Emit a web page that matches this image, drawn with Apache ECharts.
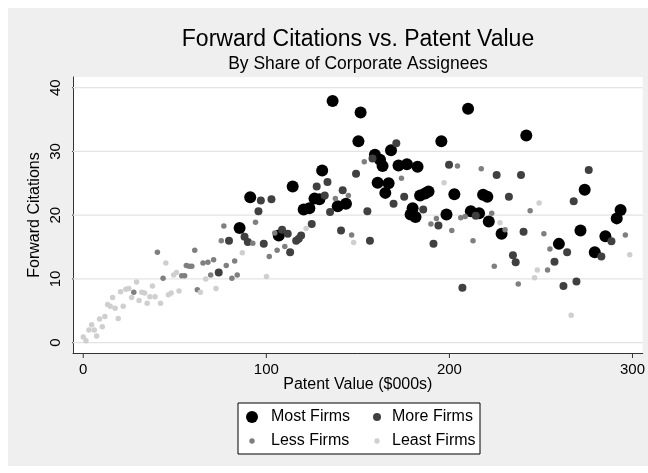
<!DOCTYPE html>
<html>
<head>
<meta charset="utf-8">
<script src="https://cdn.jsdelivr.net/npm/echarts@6/dist/echarts.min.js"></script>
<style>
html, body { margin: 0; padding: 0; background: #fff; }
#bg { position: absolute; left: 8px; top: 8px; width: 640px; height: 458px; background: #efefef; }
#chart { position: absolute; left: 0; top: 0; width: 648px; height: 473px; }
</style>
</head>
<body>
<div id="bg"></div>
<div id="chart"></div>
<script>
// tick labels
var xTicks = [0, 100, 200, 300]
var yTicks = [0, 10, 20, 30, 40]
var legendNames = ['Most Firms', 'More Firms', 'Less Firms', 'Least Firms']

// [patent value ($000s), forward citations]
var mostFirms = [
  [85.4, 18.0], [91.2, 22.8], [106.8, 16.8], [114.4, 24.5], [120.4, 20.9], [123.5, 21.1],
  [126.3, 22.6], [129.0, 22.5], [130.5, 27.0], [136.2, 37.9], [139.0, 21.4], [143.5, 21.8],
  [150.3, 31.6], [151.5, 36.1], [159.3, 29.5], [160.8, 25.1], [162.1, 28.7], [163.5, 27.7],
  [165.0, 23.5], [166.8, 25.0], [168.1, 30.2], [172.2, 27.8], [176.8, 28.0], [178.8, 20.1],
  [179.9, 21.1], [181.5, 19.7], [182.6, 27.6], [184.0, 23.1], [186.7, 23.4], [188.6, 23.7],
  [195.6, 31.6], [198.4, 20.1], [202.7, 23.3], [210.2, 36.7], [211.7, 20.6], [216.2, 20.3],
  [218.4, 23.2], [220.7, 22.9], [221.5, 19.0], [228.5, 17.1], [242.0, 32.5], [259.8, 15.5],
  [271.6, 17.6], [273.9, 24.0], [279.4, 14.2], [285.2, 16.7], [291.4, 19.5], [293.5, 20.8]
]
var moreFirms = [
  [74.0, 11.0], [79.6, 16.0], [88.1, 16.6], [89.9, 15.8], [95.7, 20.6], [97.0, 22.3],
  [98.6, 15.5], [102.8, 22.5], [108.6, 17.7], [111.7, 17.1], [113.0, 14.2], [116.3, 16.0],
  [117.7, 16.3], [119.0, 16.8], [124.8, 18.6], [127.5, 24.5], [131.9, 23.1], [133.4, 25.2],
  [134.8, 20.5], [140.8, 17.6], [141.7, 23.9], [149.0, 26.5], [155.2, 20.6], [156.6, 16.0],
  [158.0, 28.9], [169.5, 21.8], [171.0, 31.3], [175.3, 22.9], [185.7, 20.9], [191.3, 15.5],
  [194.0, 18.4], [199.8, 27.9], [207.1, 8.6], [214.4, 19.9], [225.8, 26.3], [232.5, 22.9],
  [234.7, 13.7], [236.2, 12.6], [239.1, 26.3], [240.5, 17.4], [257.4, 12.7], [262.3, 8.9],
  [264.3, 14.2], [267.9, 22.2], [269.4, 9.6], [276.1, 27.1], [283.0, 13.5], [288.5, 15.9]
]
var lessFirms = [
  [27.6, 7.9], [40.5, 14.2], [43.6, 10.1], [53.8, 10.5], [55.4, 10.5], [56.3, 12.1],
  [57.8, 12.0], [59.3, 12.0], [60.9, 14.5], [62.3, 8.3], [65.4, 12.5], [68.1, 12.6],
  [71.2, 13.0], [69.6, 10.6], [75.4, 16.0], [76.8, 18.3], [78.1, 12.1], [81.2, 10.1],
  [82.7, 12.8], [84.1, 10.6], [92.6, 15.6], [94.1, 18.9], [101.6, 13.5], [104.6, 17.2],
  [105.9, 14.5], [110.1, 15.1], [137.7, 22.6], [144.8, 23.1], [146.6, 16.9], [153.5, 28.4],
  [173.8, 25.8], [189.9, 18.6], [192.9, 19.5], [201.3, 17.6], [204.4, 27.7], [206.2, 19.6],
  [208.6, 19.8], [212.9, 16.0], [217.4, 27.3], [223.1, 20.3], [224.5, 12.0], [230.4, 17.7],
  [237.6, 9.2], [244.1, 20.7], [251.6, 17.1], [253.6, 11.4], [254.9, 14.7], [296.1, 16.9]
]
var leastFirms = [
  [0.0, 0.9], [1.5, 0.3], [3.1, 2.0], [4.6, 2.8], [6.0, 2.0], [7.3, 1.05], [8.9, 3.7],
  [10.4, 2.5], [11.8, 4.1], [13.3, 6.0], [14.7, 5.7], [16.0, 7.1], [17.4, 5.4], [19.1, 3.8],
  [20.4, 8.0], [21.8, 5.7], [23.3, 8.4], [24.9, 8.5], [26.4, 7.1], [29.1, 9.5], [30.5, 6.6],
  [32.0, 7.9], [33.5, 7.8], [34.9, 6.2], [36.4, 7.2], [37.8, 8.9], [39.2, 7.2], [42.2, 6.2],
  [45.1, 12.5], [46.5, 7.5], [48.0, 7.8], [49.4, 10.6], [50.9, 11.0], [52.3, 8.1], [64.0, 7.9],
  [66.9, 10.0], [72.5, 8.5], [86.9, 14.1], [100.1, 10.4], [121.7, 17.9], [147.7, 15.7],
  [197.1, 25.1], [227.6, 18.8], [246.5, 10.2], [248.0, 11.4], [249.0, 21.9], [266.5, 4.3],
  [298.5, 13.8]
]

var font = '"Liberation Sans", Arial, Helvetica, sans-serif'
var xMin = -5.6, xMax = 305.6, yMin = -1.62, yMax = 41.68
var tickX = 5 / 1.8347, tickY = 5 / 6.3675   // 5px ticks in data units

// legend icons: a circle inside a fixed 28x24 box so the sizes differ per entry
var legendIcons = [
  'path://M0,0M28,24M14,6A6,6,0,1,1,14,18A6,6,0,1,1,14,6Z',
  'path://M0,0M28,24M18,8A4,4,0,1,1,18,16A4,4,0,1,1,18,8Z',
  'path://M0,0M28,24M14,9.3A2.7,2.7,0,1,1,14,14.7A2.7,2.7,0,1,1,14,9.3Z',
  'path://M0,0M28,24M18,9.3A2.7,2.7,0,1,1,18,14.7A2.7,2.7,0,1,1,18,9.3Z'
]

// plain reference line (grid lines / axis ticks) drawn on the chart's own scales
function refLine(pts, color, width) {
  return {
    type: 'line', data: pts, z: 2, silent: true, clip: false,
    symbol: 'none', showSymbol: false, legendHoverLink: false,
    lineStyle: { color: color, width: width }, emphasis: { disabled: true }, tooltip: { show: false }
  }
}

var chart = echarts.init(document.getElementById('chart'))

var series = []
yTicks.forEach(function (v) { series.push(refLine([[xMin, v], [xMax, v]], '#e3e3e3', 1.3)) })
yTicks.forEach(function (v) { series.push(refLine([[xMin - tickX, v], [xMin, v]], '#333', 1)) })
xTicks.forEach(function (v) { series.push(refLine([[v, yMin], [v, yMin - tickY]], '#333', 1)) })
series.push(
  { type: 'scatter', name: legendNames[0], data: mostFirms, symbolSize: 12, z: 3, itemStyle: { color: '#000', opacity: 1 } },
  { type: 'scatter', name: legendNames[1], data: moreFirms, symbolSize: 8, z: 3, itemStyle: { color: '#404040', opacity: 1 } },
  { type: 'scatter', name: legendNames[2], data: lessFirms, symbolSize: 5.5, z: 3, itemStyle: { color: '#7f7f7f', opacity: 1 } },
  { type: 'scatter', name: legendNames[3], data: leastFirms, symbolSize: 5.5, z: 3, itemStyle: { color: '#cfcfcf', opacity: 1 } }
)

var option = {
  animation: false,
  backgroundColor: 'transparent',
  textStyle: { fontFamily: font },
  title: [
    {
      text: 'Forward Citations vs. Patent Value',
      left: 358, top: 28, textAlign: 'center', padding: 0,
      textStyle: { fontSize: 23, fontWeight: 'normal', color: '#000', fontFamily: font }
    },
    {
      text: 'By Share of Corporate Assignees',
      left: 358, top: 55, textAlign: 'center', padding: 0,
      textStyle: { fontSize: 17.5, fontWeight: 'normal', color: '#000', fontFamily: font }
    }
  ],
  grid: {
    left: 73, top: 77, right: 4, bottom: 120,
    show: true, backgroundColor: '#fff', borderWidth: 0
  },
  legend: {
    data: legendNames.map(function (n, i) { return { name: n, icon: legendIcons[i] } }),
    left: 238, top: 403,
    width: 245,
    orient: 'horizontal',
    itemWidth: 28, itemHeight: 24, itemGap: 0,
    padding: [2, 0, 1, 0],
    backgroundColor: '#fff', borderColor: '#000', borderWidth: 1, borderRadius: 0,
    selectedMode: false,
    textStyle: { fontSize: 16, color: '#000', fontFamily: font, width: 88, lineHeight: 24 }
  },
  xAxis: {
    type: 'value',
    min: xMin, max: xMax,
    name: 'Patent Value ($000s)',
    nameLocation: 'middle', nameGap: 24, nameMoveOverlap: false,
    nameTextStyle: { fontSize: 16, color: '#000', fontFamily: font },
    axisLine: { show: true, onZero: false, lineStyle: { color: '#333', width: 1 } },
    axisTick: { show: false },
    axisLabel: { customValues: xTicks, fontSize: 15, color: '#000', margin: 9, fontFamily: font },
    splitLine: { show: false }
  },
  yAxis: {
    type: 'value',
    min: yMin, max: yMax,
    name: 'Forward Citations',
    nameLocation: 'middle', nameGap: 30, nameRotate: 90, nameMoveOverlap: false,
    nameTextStyle: { fontSize: 16, color: '#000', fontFamily: font },
    axisLine: { show: true, onZero: false, lineStyle: { color: '#333', width: 1 } },
    axisTick: { show: false },
    axisLabel: { customValues: yTicks, rotate: 90, fontSize: 15, color: '#000', margin: 10, fontFamily: font },
    splitLine: { show: false }
  },
  series: series
}

chart.setOption(option)
</script>
</body>
</html>
